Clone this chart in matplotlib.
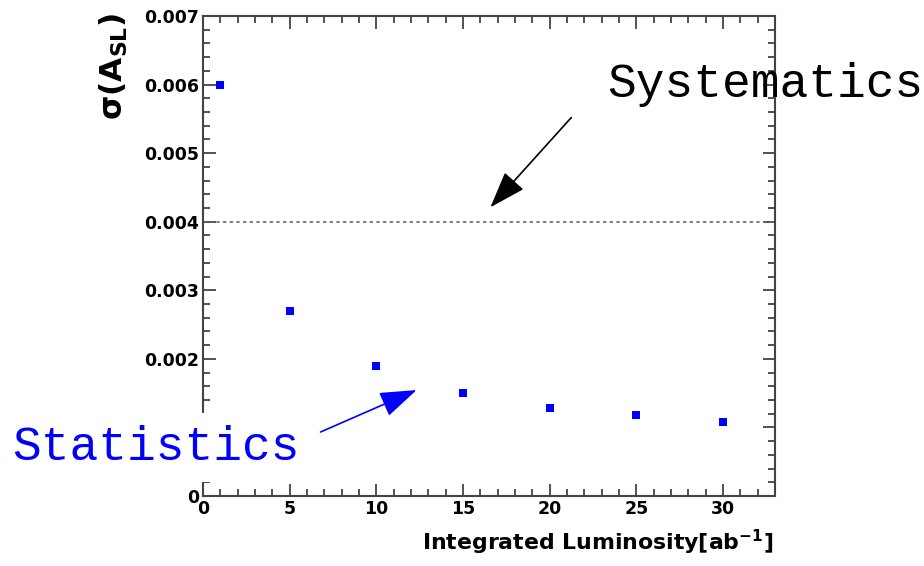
import matplotlib
matplotlib.use("Agg")
import matplotlib.pyplot as plt
from matplotlib.ticker import MultipleLocator, FixedLocator

plt.rcParams['font.family'] = ['DejaVu Sans']
plt.rcParams['mathtext.fontset'] = 'dejavusans'

lumi = [1, 5, 10, 15, 20, 25, 30]
sigma = [0.0060, 0.0027, 0.0019, 0.0015, 0.00128, 0.00118, 0.00108]
syst_level = 0.004
x_ticks = [0, 5, 10, 15, 20, 25, 30]
y_ticks = [0, 0.001, 0.002, 0.003, 0.004, 0.005, 0.006, 0.007]
# the 0.001 label is hidden behind the "Statistics" label box in the original
y_tick_labels = ['0', '', '0.002', '0.003', '0.004', '0.005', '0.006', '0.007']

W, H = 924, 566
fig = plt.figure(figsize=(W / 100, H / 100), dpi=100)
ax = fig.add_axes([203 / W, (H - 496) / H, (775 - 203) / W, (496 - 16) / H])

ax.set_xlim(0, 33)
ax.set_ylim(0, 0.007)

ax.plot(lumi, sigma, linestyle='none', marker='s', markersize=5.2,
        color='#0000ff', markeredgewidth=0, zorder=3)
ax.axhline(syst_level, color='#666666', linewidth=1.2, linestyle=(0, (2, 2)), zorder=2)

ax.xaxis.set_major_locator(FixedLocator(x_ticks))
ax.xaxis.set_minor_locator(MultipleLocator(1))
ax.yaxis.set_major_locator(FixedLocator(y_ticks))
ax.yaxis.set_minor_locator(MultipleLocator(0.0002))
ax.set_xticklabels([str(v) for v in x_ticks])
ax.set_yticklabels(y_tick_labels)

for s in ax.spines.values():
    s.set_color('#444444')
    s.set_linewidth(1.5)

ax.tick_params(which='both', direction='in', top=True, right=True,
               color='#444444', width=1.3)
ax.tick_params(which='major', length=9, labelsize=12.5, pad=3)
ax.tick_params(which='minor', length=5)
for lab in ax.get_xticklabels() + ax.get_yticklabels():
    lab.set_fontweight('bold')

fig.text(773 / W, (H - 550) / H, 'Integrated Luminosity[ab$^{\\mathbf{-1}}$]',
         ha='right', va='baseline', fontsize=15.8, fontweight='bold')
fig.text(114 / W, (H - 13) / H, 'σ(A$_{\\mathbf{SL}}$)', rotation=90,
         ha='center', va='top', fontsize=22.5, fontweight='bold')

# Systematics annotation
ax.annotate('', xy=(16.58, 0.00421), xytext=(21.25, 0.00552),
            arrowprops=dict(arrowstyle='-|>,head_length=2.3,head_width=0.8',
                            color='black', lw=1.2, shrinkA=0, shrinkB=0))
fig.text(607 / W, (H - 97) / H, 'Systematics', family='Liberation Mono',
         fontsize=34.5, color='black', ha='left', va='baseline')

# Statistics annotation
ax.annotate('', xy=(12.32, 0.001545), xytext=(6.78, 0.000933),
            arrowprops=dict(arrowstyle='-|>,head_length=2.3,head_width=0.8',
                            color='#0000ff', lw=1.2, shrinkA=0, shrinkB=0))
fig.text(12 / W, (H - 460) / H, 'Statistics', family='Liberation Mono',
         fontsize=34.5, color='#0000ff', ha='left', va='baseline',
         bbox=dict(facecolor='white', edgecolor='none', pad=9), zorder=5)

fig.savefig('out.png', dpi=100)
